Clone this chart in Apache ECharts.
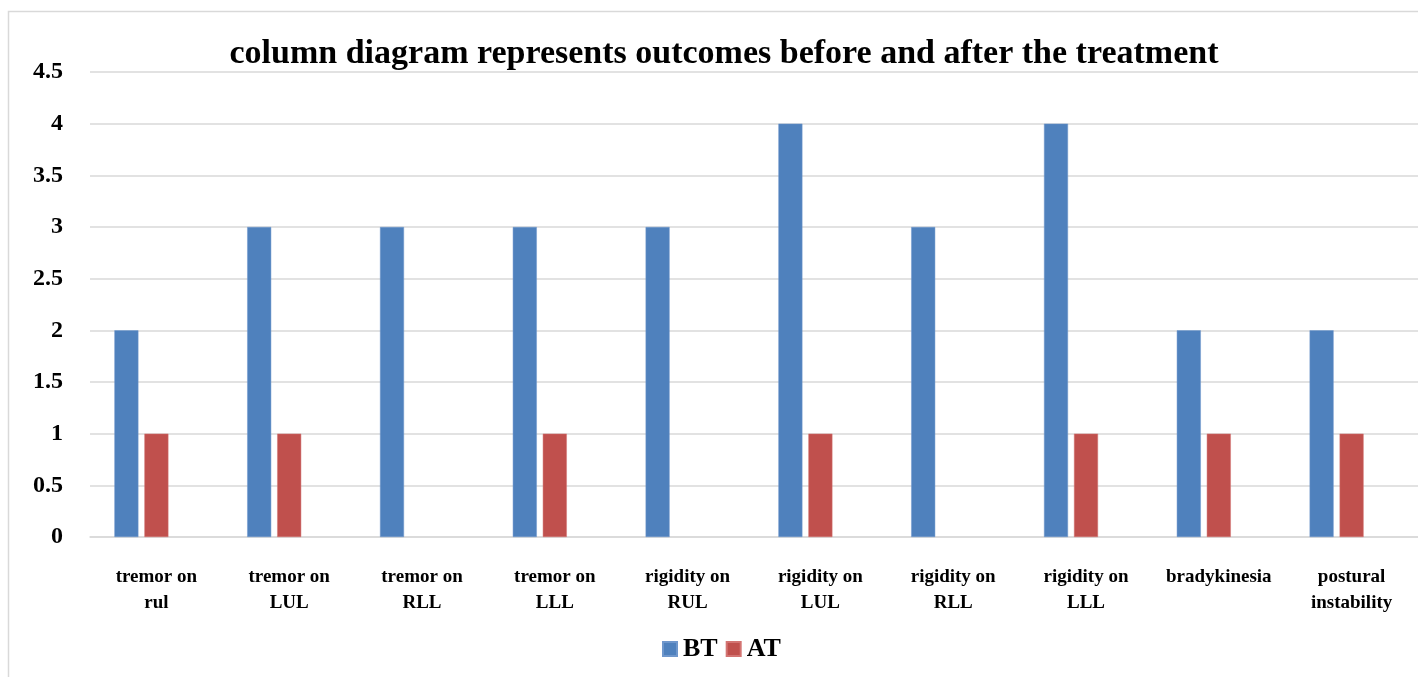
<!DOCTYPE html>
<html>
<head>
<meta charset="utf-8">
<script src="https://cdn.jsdelivr.net/npm/echarts@6/dist/echarts.min.js"></script>
<style>
html,body{margin:0;padding:0;background:#fff;}
#c{width:1418px;height:677px;}
</style>
</head>
<body>
<div id="c"></div>
<script>
const categories = ['tremor on\nrul','tremor on\nLUL','tremor on\nRLL','tremor on\nLLL','rigidity on\nRUL','rigidity on\nLUL','rigidity on\nRLL','rigidity on\nLLL','bradykinesia','postural\ninstability'];
const btValues = [2,3,3,3,3,4,3,4,2,2];
const atValues = [1,1,null,1,null,1,null,1,1,1];
const emptyValues = [null,null,null,null,null,null,null,null,null,null];
const yTicks = {min:0, max:4.5, interval:0.5};

const font = '"Liberation Serif", "DejaVu Serif", serif';
const chart = echarts.init(document.getElementById('c'));
chart.setOption({
  animation:false,
  backgroundColor:'#fff',
  title:{
    text:'column diagram represents outcomes before and after the treatment',
    left:719, top:32, textAlign:'center',
    textStyle:{fontFamily:font, fontWeight:'bold', fontSize:34, color:'#000'}
  },
  graphic:[{type:'rect', shape:{x:8.5,y:11.5,width:1440,height:700}, style:{fill:'none', stroke:'#d9d9d9', lineWidth:1.5}, z:-1}],
  legend:{
    data:['BT','AT'], left:657, top:631, itemWidth:14, itemHeight:14, itemGap:8,
    icon:'rect',
    textStyle:{fontFamily:font, fontWeight:'bold', fontSize:26, color:'#000', padding:[0,0,0,1]}
  },
  grid:{left:90, top:72, width:1330, height:465, containLabel:false},
  xAxis:{
    type:'category', data:categories,
    axisLine:{lineStyle:{color:'#d9d9d9', width:1.5}},
    axisTick:{show:false},
    axisLabel:{fontFamily:font, fontWeight:'bold', fontSize:19, color:'#000', lineHeight:26, margin:27, interval:0}
  },
  yAxis:{
    type:'value', min:yTicks.min, max:yTicks.max, interval:yTicks.interval,
    axisLine:{show:false}, axisTick:{show:false},
    splitLine:{lineStyle:{color:'#d9d9d9', width:1.5}},
    axisLabel:{fontFamily:font, fontWeight:'bold', fontSize:24, color:'#000', margin:27,
      formatter:v=>String(v)}
  },
  series:[
    {name:'BT', type:'bar', data:btValues, barWidth:24, barGap:'25%', barCategoryGap:'37%',
     itemStyle:{color:'#4F81BD', borderColor:'#6f97cc', borderWidth:0.5}},
    {name:'AT', type:'bar', data:atValues, barWidth:24, barGap:'25%',
     itemStyle:{color:'#C0504D', borderColor:'#d37472', borderWidth:0.5}},
    {name:'empty', type:'bar', data:emptyValues, barWidth:24, barGap:'25%', itemStyle:{color:'#9BBB59'}}
  ]
});
</script>
</body>
</html>
